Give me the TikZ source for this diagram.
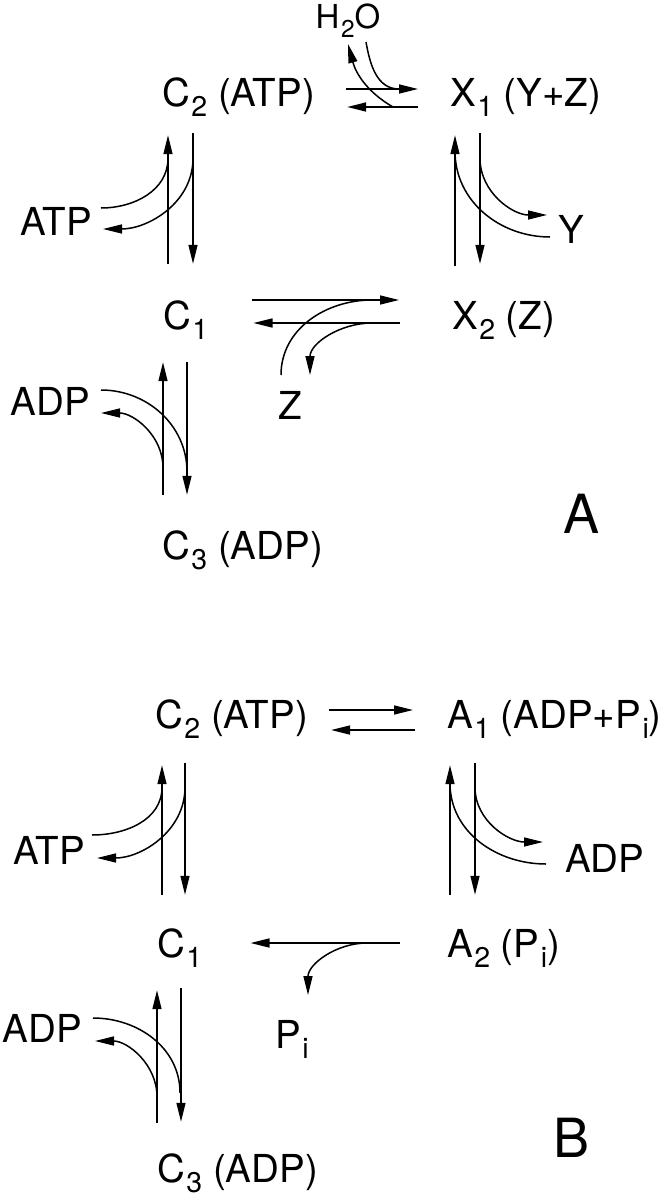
\documentclass[tikz,border=0pt]{standalone}
\usepackage{fontspec}
\setmainfont{TeX Gyre Heros}
\usetikzlibrary{arrows.meta}

\newcommand{\subs}[1]{\kern1.5pt\raisebox{-.28em}{\scalebox{.74}{#1}}}

\begin{document}
\begin{tikzpicture}[x=1pt, y=1pt,
	every node/.style={font=\fontsize{38.5}{41}\selectfont, inner sep=0pt, text height=28pt, text depth=0pt},
	species/.style={anchor=west},
	rxn/.style={line width=1.5pt, -{Triangle[length=19pt, width=9pt]}},
	side/.style={line width=1.5pt},
	panel/.style={font=\fontsize{54}{56}\selectfont, text height=39pt}]

	\fill[white] (0,0) rectangle (662,-1199);
	\useasboundingbox (0,0) rectangle (662,-1199);

	% panel A
	\begin{scope}
	\node (c2a) at (162,-92) [species] {C\subs{2} (ATP)};
	\node (x1a) at (450,-92) [species] {X\subs{1} (Y+Z)};
	\node (c1a) at (163,-315) [species] {C\subs{1}};
	\node (x2a) at (452,-315) [species] {X\subs{2} (Z)};
	\node (c3a) at (162,-545) [species] {C\subs{3} (ADP)};
	\node (h2o) at (348,-17) [font=\fontsize{33}{35}\selectfont, text height=23pt] {H\subs{2}O};
	\node (atpa) at (92,-221) [anchor=east] {ATP};
	\node (ya) at (558,-229) [anchor=west] {Y};
	\node (za) at (290,-405) {Z};
	\node (adpa) at (90,-401) [anchor=east] {ADP};
	\node (laba) at (582,-514) [panel] {A};
	\end{scope}

	\begin{scope}
	\draw[rxn] ([shift={(31,3)}]c2a.east) -- ([shift={(-32,3)}]x1a.west);
	\draw[rxn] ([shift={(-32,-15)}]x1a.west) -- ([shift={(32,-15)}]c2a.east);
	\draw[side] ([shift={(18,-25)}]h2o.center) to[out=-80,in=180] ([shift={(-51,3)}]x1a.west);
	\draw[rxn] ([shift={(-57,-15)}]x1a.west) to[out=150,in=-75] ([shift={(0,-27)}]h2o.center);

	\draw[rxn] ([shift={(5,37)}]c1a.north west) -- ([shift={(6,-29)}]c2a.south west);
	\draw[rxn] ([shift={(31,-27)}]c2a.south west) -- ([shift={(30,37)}]c1a.north west);
	\draw[side] ([shift={(9,13)}]atpa.east) to[out=0,in=-90] ([shift={(6,-52)}]c2a.south west);
	\draw[rxn] ([shift={(31,-52)}]c2a.south west) to[out=-90,in=0] ([shift={(11,-8)}]atpa.east);

	\draw[rxn] ([shift={(3,35)}]x2a.north west) -- ([shift={(5,-29)}]x1a.south west);
	\draw[rxn] ([shift={(30,-27)}]x1a.south west) -- ([shift={(28,37)}]x2a.north west);
	\draw[rxn] ([shift={(30,-52)}]x1a.south west) to[out=-90,in=180] ([shift={(-11,14)}]ya.west);
	\draw[side] ([shift={(-8,-8)}]ya.west) to[out=180,in=-90] ([shift={(5,-45)}]x1a.south west);

	\draw[rxn] ([shift={(43,15)}]c1a.east) -- ([shift={(-53,15)}]x2a.west);
	\draw[rxn] ([shift={(-52,-8)}]x2a.west) -- ([shift={(45,-8)}]c1a.east);
	\draw[side] ([shift={(-9,30)}]za.center) to[out=90,in=180] ([shift={(-80,15)}]x2a.west);
	\draw[rxn] ([shift={(-80,-8)}]x2a.west) to[out=180,in=90] ([shift={(20,30)}]za.center);

	\draw[rxn] ([shift={(1,36)}]c3a.north west) -- ([shift={(0,-33)}]c1a.south west);
	\draw[rxn] ([shift={(24,-33)}]c1a.south west) -- ([shift={(25,36)}]c3a.north west);
	\draw[side] ([shift={(11,11)}]adpa.east) to[out=0,in=90] ([shift={(25,59)}]c3a.north west);
	\draw[rxn] ([shift={(1,63)}]c3a.north west) to[out=90,in=0] ([shift={(11,-12)}]adpa.east);
	\end{scope}

	% panel B
	\begin{scope}
	\node (c2b) at (155,-714) [species] {C\subs{2} (ATP)};
	\node (a1b) at (447,-714) [species] {A\subs{1} (ADP+P\subs{i})};
	\node (c1b) at (157,-943) [species] {C\subs{1}};
	\node (a2b) at (447,-943) [species] {A\subs{2} (P\subs{i})};
	\node (c3b) at (157,-1168) [species] {C\subs{3} (ADP)};
	\node (atpb) at (85,-850) [anchor=east] {ATP};
	\node (adpb) at (565,-858) [anchor=west] {ADP};
	\node (pib) at (275,-1034) [anchor=west] {P\subs{i}};
	\node (adpc) at (82,-1028) [anchor=east] {ADP};
	\node (labb) at (572,-1138) [panel] {B};
	\end{scope}

	\begin{scope}
	\draw[rxn] ([shift={(21,4)}]c2b.east) -- ([shift={(-34,4)}]a1b.west);
	\draw[rxn] ([shift={(-32,-16)}]a1b.west) -- ([shift={(23,-16)}]c2b.east);

	\draw[rxn] ([shift={(5,34)}]c1b.north west) -- ([shift={(7,-37)}]c2b.south west);
	\draw[rxn] ([shift={(30,-35)}]c2b.south west) -- ([shift={(28,34)}]c1b.north west);
	\draw[side] ([shift={(7,15)}]atpb.east) to[out=0,in=-90] ([shift={(7,-59)}]c2b.south west);
	\draw[rxn] ([shift={(30,-59)}]c2b.south west) to[out=-90,in=0] ([shift={(12,-8)}]atpb.east);

	\draw[rxn] ([shift={(3,34)}]a2b.north west) -- ([shift={(3,-37)}]a1b.south west);
	\draw[rxn] ([shift={(28,-35)}]a1b.south west) -- ([shift={(28,34)}]a2b.north west);
	\draw[rxn] ([shift={(28,-59)}]a1b.south west) to[out=-90,in=180] ([shift={(-22,16)}]adpb.west);
	\draw[side] ([shift={(-19,-6)}]adpb.west) to[out=180,in=-90] ([shift={(3,-55)}]a1b.south west);

	\draw[rxn] ([shift={(-47,0)}]a2b.west) -- ([shift={(48,0)}]c1b.east);
	\draw[rxn] ([shift={(-80,0)}]a2b.west) to[out=180,in=90] ([shift={(33,39)}]pib.west);

	\draw[rxn] ([shift={(0,31)}]c3b.north west) -- ([shift={(0,-33)}]c1b.south west);
	\draw[rxn] ([shift={(24,-31)}]c1b.south west) -- ([shift={(24,32)}]c3b.north west);
	\draw[side] ([shift={(11,10)}]adpc.east) to[out=0,in=90] ([shift={(23,61)}]c3b.north west);
	\draw[rxn] ([shift={(0,57)}]c3b.north west) to[out=90,in=0] ([shift={(13,-13)}]adpc.east);
	\end{scope}
\end{tikzpicture}
\end{document}
